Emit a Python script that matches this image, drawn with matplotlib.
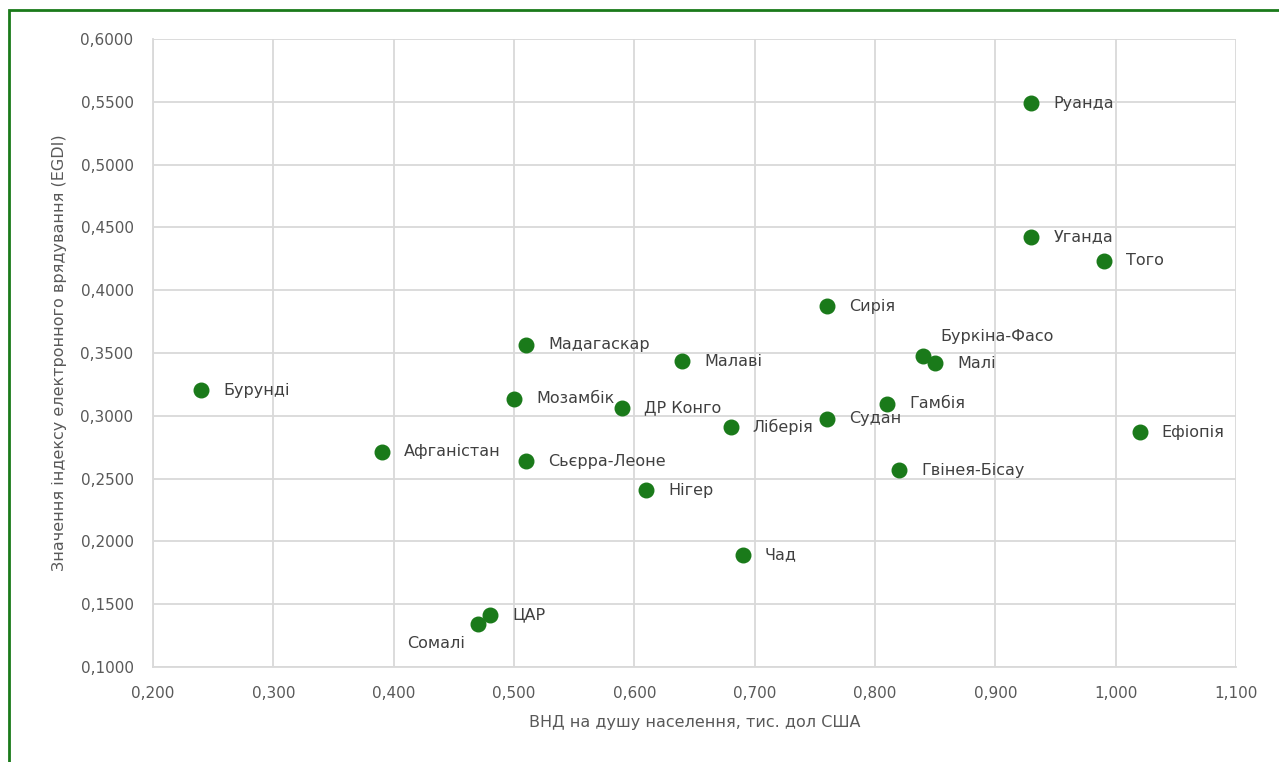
import matplotlib.pyplot as plt
from matplotlib.patches import Rectangle
from matplotlib.ticker import FuncFormatter

countries = ['Руанда', 'Уганда', 'Того', 'Сирія', 'Буркіна-Фасо', 'Малі', 'Мадагаскар',
             'Малаві', 'Бурунді', 'Мозамбік', 'ДР Конго', 'Гамбія', 'Судан', 'Ліберія',
             'Ефіопія', 'Афганістан', 'Сьєрра-Леоне', 'Гвінея-Бісау', 'Нігер', 'Чад',
             'ЦАР', 'Сомалі']
gni = [0.93, 0.93, 0.99, 0.76, 0.84, 0.85, 0.51, 0.64, 0.24, 0.50, 0.59, 0.81, 0.76, 0.68,
       1.02, 0.39, 0.51, 0.82, 0.61, 0.69, 0.48, 0.47]
egdi = [0.5488, 0.4424, 0.4233, 0.3874, 0.3476, 0.3420, 0.3564, 0.3436, 0.3205, 0.3134,
        0.3062, 0.3094, 0.2975, 0.2911, 0.2871, 0.2712, 0.2640, 0.2568, 0.2409, 0.1892,
        0.1414, 0.1342]

green = '#1a7a1a'
txt = '#595959'

plt.rcParams['font.family'] = ['DejaVu Sans']
fig = plt.figure(figsize=(12.79, 7.62), dpi=100)
ax = fig.add_axes([153/1279, 1-667/762, (1236-153)/1279, (667-39)/762])

ax.scatter(gni, egdi, s=110, color=green, zorder=3)

offsets = {'Буркіна-Фасо': (17, 20, 'left'), 'Сомалі': (-13, -19, 'right')}
for c, x, y in zip(countries, gni, egdi):
    dx, dy, ha = offsets.get(c, (22, 0, 'left'))
    ax.annotate(c, (x, y), xytext=(dx * 0.72, dy * 0.72), textcoords='offset points',
                ha=ha, va='center', fontsize=11.5, color='#404040')

ax.set_xlim(0.2, 1.1)
ax.set_ylim(0.1, 0.6)
ax.set_xticks([0.2 + 0.1 * i for i in range(10)])
ax.set_yticks([0.1 + 0.05 * i for i in range(11)])
ax.xaxis.set_major_formatter(FuncFormatter(lambda v, p: f'{v:.3f}'.replace('.', ',')))
ax.yaxis.set_major_formatter(FuncFormatter(lambda v, p: f'{v:.4f}'.replace('.', ',')))
ax.grid(True, color='#d9d9d9', linewidth=1.3)
ax.set_axisbelow(True)
for s in ['top', 'right']:
    ax.spines[s].set_visible(False)
for s in ['left', 'bottom']:
    ax.spines[s].set_color('#d9d9d9')
    ax.spines[s].set_linewidth(1.3)
ax.tick_params(length=0, labelsize=11, labelcolor=txt, pad=14)
ax.tick_params(axis='y', pad=14)

ax.set_xlabel('ВНД на душу населення, тис. дол США', fontsize=11.5, color=txt, labelpad=10)
ax.set_ylabel('Значення індексу електронного врядування (EGDI)', fontsize=11.5, color=txt,
              labelpad=10)

fig.patches.append(Rectangle((9/1279, -0.05), 1.1, 1 - 10/762 + 0.05, transform=fig.transFigure,
                             fill=False, edgecolor=green, linewidth=2))

fig.savefig('out.png', dpi=100)
